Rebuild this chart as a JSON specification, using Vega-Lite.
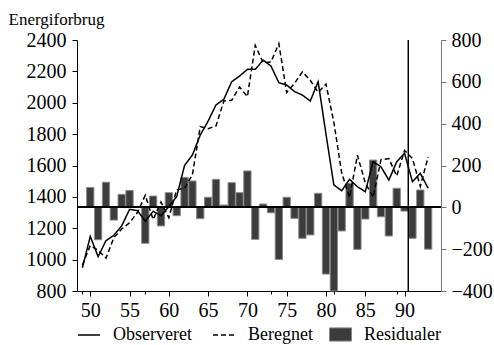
{
  "$schema": "https://vega.github.io/schema/vega-lite/v6.json",
  "autosize": "none",
  "width": 364,
  "height": 251,
  "padding": {"left": 77, "top": 40, "right": 53, "bottom": 54},
  "data": {"values": [
    {"year": 49, "Observeret": 948, "Beregnet": 965, "resid": null},
    {"year": 50, "Observeret": 1148, "Beregnet": 1090, "resid": 95},
    {"year": 51, "Observeret": 1019, "Beregnet": 1060, "resid": -155},
    {"year": 52, "Observeret": 1121, "Beregnet": 1010, "resid": 120},
    {"year": 53, "Observeret": 1155, "Beregnet": 1140, "resid": -61},
    {"year": 54, "Observeret": 1215, "Beregnet": 1195, "resid": 62},
    {"year": 55, "Observeret": 1320, "Beregnet": 1235, "resid": 81},
    {"year": 56, "Observeret": 1313, "Beregnet": 1300, "resid": 2},
    {"year": 57, "Observeret": 1245, "Beregnet": 1410, "resid": -172},
    {"year": 58, "Observeret": 1308, "Beregnet": 1255, "resid": 54},
    {"year": 59, "Observeret": 1280, "Beregnet": 1367, "resid": -89},
    {"year": 60, "Observeret": 1338, "Beregnet": 1268, "resid": 70},
    {"year": 61, "Observeret": 1402, "Beregnet": 1445, "resid": -40},
    {"year": 62, "Observeret": 1600, "Beregnet": 1455, "resid": 143},
    {"year": 63, "Observeret": 1667, "Beregnet": 1541, "resid": 126},
    {"year": 64, "Observeret": 1794, "Beregnet": 1848, "resid": -54},
    {"year": 65, "Observeret": 1883, "Beregnet": 1835, "resid": 48},
    {"year": 66, "Observeret": 1986, "Beregnet": 1852, "resid": 134},
    {"year": 67, "Observeret": 2022, "Beregnet": 2011, "resid": 11},
    {"year": 68, "Observeret": 2134, "Beregnet": 2016, "resid": 118},
    {"year": 69, "Observeret": 2170, "Beregnet": 2100, "resid": 70},
    {"year": 70, "Observeret": 2213, "Beregnet": 2039, "resid": 174},
    {"year": 71, "Observeret": 2213, "Beregnet": 2366, "resid": -153},
    {"year": 72, "Observeret": 2272, "Beregnet": 2256, "resid": 16},
    {"year": 73, "Observeret": 2234, "Beregnet": 2260, "resid": -26},
    {"year": 74, "Observeret": 2128, "Beregnet": 2377, "resid": -249},
    {"year": 75, "Observeret": 2113, "Beregnet": 2065, "resid": 48},
    {"year": 76, "Observeret": 2071, "Beregnet": 2124, "resid": -53},
    {"year": 77, "Observeret": 2049, "Beregnet": 2197, "resid": -148},
    {"year": 78, "Observeret": 2011, "Beregnet": 2143, "resid": -132},
    {"year": 79, "Observeret": 2134, "Beregnet": 2067, "resid": 67},
    {"year": 80, "Observeret": 1800, "Beregnet": 2119, "resid": -319},
    {"year": 81, "Observeret": 1476, "Beregnet": 1876, "resid": -400},
    {"year": 82, "Observeret": 1439, "Beregnet": 1552, "resid": -113},
    {"year": 83, "Observeret": 1512, "Beregnet": 1397, "resid": 115},
    {"year": 84, "Observeret": 1465, "Beregnet": 1666, "resid": -201},
    {"year": 85, "Observeret": 1433, "Beregnet": 1489, "resid": -56},
    {"year": 86, "Observeret": 1624, "Beregnet": 1398, "resid": 226},
    {"year": 87, "Observeret": 1592, "Beregnet": 1637, "resid": -45},
    {"year": 88, "Observeret": 1507, "Beregnet": 1644, "resid": -137},
    {"year": 89, "Observeret": 1624, "Beregnet": 1533, "resid": 91},
    {"year": 90, "Observeret": 1678, "Beregnet": 1696, "resid": -18},
    {"year": 91, "Observeret": 1497, "Beregnet": 1645, "resid": -148},
    {"year": 92, "Observeret": 1550, "Beregnet": 1467, "resid": 83},
    {"year": 93, "Observeret": 1455, "Beregnet": 1655, "resid": -200}
  ]},
  "config": {
    "font": "Liberation Serif",
    "view": {"stroke": null},
    "axis": {
      "grid": false,
      "labelFont": "Liberation Serif",
      "labelFontSize": 20,
      "labelColor": "black",
      "domainColor": "black",
      "tickColor": "black",
      "titleFont": "Liberation Serif",
      "titleColor": "black",
      "titleFontWeight": "normal",
      "format": "d"
    },
    "legend": {
      "labelFont": "Liberation Serif",
      "labelFontSize": 18,
      "labelColor": "black",
      "padding": 0
    }
  },
  "layer": [
    {
      "layer": [
        {
          "mark": {"type": "bar", "width": 7.3, "stroke": "#8a8a8a", "strokeWidth": 1},
          "encoding": {
            "x": {
              "field": "year", "type": "quantitative",
              "scale": {"domain": [48.95, 94], "nice": false, "zero": false},
              "axis": {"orient": "bottom", "values": [50, 55, 60, 65, 70, 75, 80, 85, 90], "format": "d", "tickSize": 5, "labelPadding": 4, "title": null, "labelFlush": false}
            },
            "y": {
              "field": "resid", "type": "quantitative",
              "scale": {"domain": [-400, 800], "nice": false, "zero": false},
              "axis": {"orient": "right", "values": [-400, -200, 0, 200, 400, 600, 800], "format": "d", "tickSize": 5, "labelPadding": 5, "title": null, "domainColor": "#777", "tickColor": "#777", "labelFlush": false}
            },
            "y2": {"datum": 0},
            "fill": {
              "datum": "Residualer",
              "scale": {"range": ["#3c3c3c"]},
              "legend": {
                "orient": "none", "legendX": 252, "legendY": 283, "title": null,
                "symbolType": "M-1,-0.6H1V0.6H-1Z", "symbolSize": 484,
                "symbolFillColor": "#3c3c3c", "symbolStrokeColor": "#8a8a8a", "symbolStrokeWidth": 1,
                "labelOffset": 12
              }
            }
          }
        },
        {
          "mark": {"type": "rule", "color": "black", "strokeWidth": 1},
          "encoding": {"y": {"datum": 0}}
        }
      ]
    },
    {
      "layer": [
        {
          "transform": [{"fold": ["Observeret", "Beregnet"], "as": ["serie", "value"]}],
          "mark": {"type": "line", "color": "black", "strokeWidth": 1.5},
          "encoding": {
            "x": {
              "field": "year", "type": "quantitative",
              "axis": {"orient": "bottom", "values": [49,50,51,52,53,54,55,56,57,58,59,60,61,62,63,64,65,66,67,68,69,70,71,72,73,74,75,76,77,78,79,80,81,82,83,84,85,86,87,88,89,90,91,92,93], "tickSize": 3, "labels": false, "domain": false, "title": null}
            },
            "y": {
              "field": "value", "type": "quantitative",
              "scale": {"domain": [800, 2400], "nice": false, "zero": false},
              "axis": {"orient": "left", "values": [800, 1000, 1200, 1400, 1600, 1800, 2000, 2200, 2400], "format": "d", "tickSize": 5, "labelPadding": 6, "labelFlush": false,
                "title": "Energiforbrug", "titleAngle": 0, "titleAlign": "left", "titleBaseline": "alphabetic", "titleX": -69, "titleY": -16, "titleFontSize": 17}
            },
            "strokeDash": {
              "field": "serie", "type": "nominal",
              "scale": {"domain": ["Observeret", "Beregnet"], "range": [[1, 0], [5, 3]]},
              "legend": {
                "orient": "none", "legendX": 0, "legendY": 283, "title": null, "direction": "horizontal",
                "symbolType": "stroke", "symbolSize": 484, "symbolStrokeWidth": 1.5, "symbolStrokeColor": "black",
                "labelOffset": 12, "columnPadding": 18
              }
            }
          }
        },
        {
          "mark": {"type": "rule", "color": "black", "strokeWidth": 1},
          "encoding": {"x": {"datum": 90.5}}
        }
      ]
    }
  ],
  "resolve": {"scale": {"y": "independent"}, "axis": {"x": "independent"}}
}
